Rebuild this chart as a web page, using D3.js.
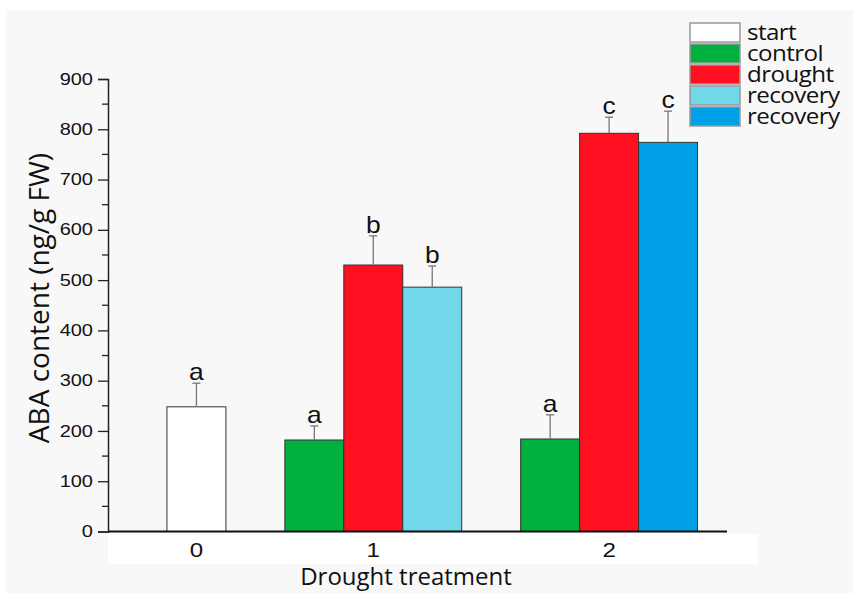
<!DOCTYPE html>
<html>
<head>
<meta charset="utf-8">
<script src="https://cdn.jsdelivr.net/npm/d3@7"></script>
<style>
  body { margin: 0; background: #fff; }
  svg { display: block; }
</style>
</head>
<body>
<div id="chart"></div>
<script>
// Categories on the x axis and the series drawn in each of them
const categories = ["0", "1", "2"];
const groupSeries = [["start"], ["control", "drought", "recovery1"], ["control", "drought", "recovery2"]];

// Bar values (ng/g FW), upper error and significance letters, per category
const values = [[248], [182, 530, 486], [184, 792, 774]];
const errors = [[47], [28, 58, 42], [48, 32, 62]];
const letters = [["a"], ["a", "b", "b"], ["a", "c", "c"]];

// Legend entries
const legendKeys = ["start", "control", "drought", "recovery1", "recovery2"];
const legendLabels = ["start", "control", "drought", "recovery", "recovery"];
const yTicks = [0, 100, 200, 300, 400, 500, 600, 700, 800, 900];

const colors = {
    start: "#ffffff",
    control: "#00b140",
    drought: "#ff1020",
    recovery1: "#72d7e8",
    recovery2: "#00a0e6"
};

const width = 853, height = 593;
const sans = "Liberation Sans, Arial, sans-serif";
const titleFont = "Open Sans, sans-serif";

const svg = d3.select("#chart").append("svg")
    .attr("width", width)
    .attr("height", height);

// Light grey paper with a white band under the x axis, like the scanned figure
svg.append("rect").attr("x", 6).attr("y", 10).attr("width", width - 6).attr("height", height - 10).attr("fill", "#f8f8f8");
svg.append("rect").attr("x", 108).attr("y", 534).attr("width", 650).attr("height", 30).attr("fill", "#ffffff");

// Lay bars out slot by slot: one empty slot between groups, one before the first
const bars = [];
const tickSlots = [];
let slot = 0;
groupSeries.forEach((series, gi) => {
    const start = slot;
    series.forEach((s, si) => {
        bars.push({
            slot: slot,
            series: s,
            value: values[gi][si],
            err: errors[gi][si],
            letter: letters[gi][si]
        });
        slot++;
    });
    tickSlots.push((start + slot - 1) / 2 + 0.5);
    slot++;
});

const x = d3.scaleLinear().domain([-1, 9.5]).range([108, 727]);
const y = d3.scaleLinear().domain([0, 900]).range([531.5, 79]);
const bw = x(1) - x(0);

// Bars
svg.append("g")
    .selectAll("rect")
    .data(bars)
    .join("rect")
    .attr("x", d => x(d.slot))
    .attr("y", d => y(d.value))
    .attr("width", bw)
    .attr("height", d => y(0) - y(d.value))
    .attr("fill", d => colors[d.series])
    .attr("stroke", "#333")
    .attr("stroke-width", 1);

// Error bars (upper only)
const eb = svg.append("g").attr("stroke", "#777").attr("stroke-width", 1.3);
bars.forEach(d => {
    const cx = x(d.slot) + bw / 2;
    eb.append("line").attr("x1", cx).attr("x2", cx).attr("y1", y(d.value)).attr("y2", y(d.value + d.err));
    eb.append("line").attr("x1", cx - 4).attr("x2", cx + 4).attr("y1", y(d.value + d.err)).attr("y2", y(d.value + d.err));
});

// Significance letters (slightly wide, as in the stretched original)
svg.append("g")
    .selectAll("text")
    .data(bars)
    .join("text")
    .attr("transform", d => `translate(${x(d.slot) + bw / 2},${y(d.value + d.err) - 3}) scale(1.15,1)`)
    .attr("text-anchor", "middle")
    .style("font-family", sans)
    .style("font-size", "23px")
    .attr("fill", "#111")
    .text(d => d.letter);

// Y axis with minor ticks
const yAxis = d3.axisLeft(y).tickValues(yTicks).tickSize(10).tickPadding(5);
const yg = svg.append("g").attr("transform", `translate(${x(-1)},0)`).call(yAxis);
yg.select(".domain").attr("stroke", "#222").attr("stroke-width", 1.5);
yg.selectAll(".tick line").attr("stroke", "#222").attr("stroke-width", 1.3);
yg.selectAll(".tick text")
    .attr("x", null)
    .attr("transform", "translate(-15,0) scale(1.25,1)")
    .style("font-family", sans)
    .style("font-size", "16px")
    .attr("fill", "#111");
svg.append("g")
    .selectAll("line")
    .data(yTicks.slice(0, -1).map(v => v + 50))
    .join("line")
    .attr("x1", x(-1) - 6)
    .attr("x2", x(-1))
    .attr("y1", d => y(d))
    .attr("y2", d => y(d))
    .attr("stroke", "#222")
    .attr("stroke-width", 1.3);

// X axis
svg.append("line")
    .attr("x1", x(-1)).attr("x2", x(9.5))
    .attr("y1", y(0)).attr("y2", y(0))
    .attr("stroke", "#111").attr("stroke-width", 2);
svg.append("g")
    .selectAll("text")
    .data(categories)
    .join("text")
    .attr("transform", (d, i) => `translate(${x(tickSlots[i])},557) scale(1.15,1)`)
    .attr("text-anchor", "middle")
    .style("font-family", sans)
    .style("font-size", "21px")
    .attr("fill", "#111")
    .text(d => d);

// Axis titles
svg.append("text")
    .attr("x", 406)
    .attr("y", 585)
    .attr("text-anchor", "middle")
    .style("font-family", titleFont)
    .style("font-size", "24px")
    .attr("fill", "#111")
    .text("Drought treatment");

svg.append("text")
    .attr("transform", "translate(49,298) rotate(-90)")
    .attr("text-anchor", "middle")
    .style("font-family", titleFont)
    .style("font-size", "28px")
    .attr("fill", "#111")
    .text("ABA content (ng/g FW)");

// Legend
const legend = svg.append("g").attr("transform", "translate(690,23)");
const row = legend.selectAll("g")
    .data(legendKeys)
    .join("g")
    .attr("transform", (d, i) => `translate(0,${i * 21})`);
row.append("rect")
    .attr("width", 50)
    .attr("height", 19)
    .attr("fill", d => colors[d])
    .attr("stroke", "#999")
    .attr("stroke-width", 1.5);
row.append("text")
    .attr("transform", "translate(57,17) scale(1.15,1)")
    .style("font-family", titleFont)
    .style("font-size", "21px")
    .style("letter-spacing", "-0.5px")
    .attr("fill", "#111")
    .text((d, i) => legendLabels[i]);
</script>
</body>
</html>
